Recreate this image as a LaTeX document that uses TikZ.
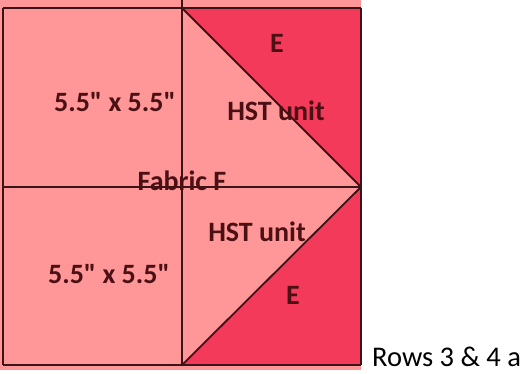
\documentclass[tikz,border=0pt]{standalone}
\usepackage{fontspec}
\setmainfont{Carlito}[Ligatures=TeXOff]
\definecolor{fabricF}{HTML}{FF9697}
\definecolor{fabricE}{HTML}{F43A5A}
\definecolor{seam}{HTML}{3A1416}
\definecolor{labeltext}{HTML}{4A1014}
\begin{document}
\begin{tikzpicture}
  [x=1pt,y=-1pt,every node/.style={inner sep=0pt,font=\fontsize{28}{31}\selectfont\bfseries,text=labeltext}]
  \tikzstyle{seamline} = [draw=seam,line width=1.8pt]
  \useasboundingbox (0,0) rectangle (527,373);
  % corners of the block
  \coordinate (tl) at (3,8);
  \coordinate (tm) at (182,8);
  \coordinate (tr) at (361,8);
  \coordinate (ml) at (3,187);
  \coordinate (mr) at (361,187);
  \coordinate (bl) at (3,365);
  \coordinate (bm) at (182,365);
  \coordinate (br) at (361,365);
  % fabric
  \fill[fabricF] (0,0) rectangle (361,370);
  \fill[fabricE] (tm) -- (tr) -- (mr) -- cycle;
  \fill[fabricE] (bm) -- (mr) -- (br) -- cycle;
  % seams
  \foreach \source /\dest in {tl/tr,ml/mr,bl/br,tl/bl,tr/br,tm/bm,tm/mr,mr/bm}
   \draw[seamline] (\source) -- (\dest);
  \draw[seamline] (182,0) -- (tm);
  % labels
  \node (sq1) at (115,102) {5.5" x 5.5"};
  \node (e1) at (277,43) {E};
  \node (hst1) at (276,111) {HST unit};
  \node (fab) at (182,181) {Fabric F};
  \node (hst2) at (257,232) {HST unit};
  \node (sq2) at (109,274) {5.5" x 5.5"};
  \node (e2) at (293,295) {E};
  \node[anchor=base west,font=\fontsize{28.5}{31}\selectfont,text=black] (rows) at (372,366) {Rows 3 \& 4 a};
\end{tikzpicture}
\end{document}
